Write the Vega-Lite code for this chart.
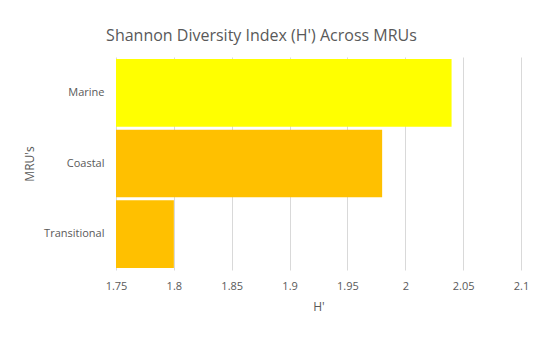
{
  "$schema": "https://vega.github.io/schema/vega-lite/v6.json",
  "width": 405,
  "height": 213,
  "autosize": {"type": "none"},
  "padding": {"left": 116, "top": 57, "right": 29, "bottom": 70},
  "background": "white",
  "title": {
    "text": "Shannon Diversity Index (H') Across MRUs",
    "font": "Open Sans",
    "fontSize": 16,
    "fontWeight": "normal",
    "color": "#595959",
    "anchor": "middle",
    "dx": -57,
    "offset": 13
  },
  "data": {
    "values": [
      {"MRU": "Marine", "H": 2.04},
      {"MRU": "Coastal", "H": 1.98},
      {"MRU": "Transitional", "H": 1.80}
    ]
  },
  "mark": {"type": "bar", "clip": true},
  "encoding": {
    "y": {
      "field": "MRU",
      "type": "nominal",
      "sort": ["Marine", "Coastal", "Transitional"],
      "scale": {"paddingInner": 0.04, "paddingOuter": 0.03},
      "axis": {
        "title": "MRU's",
        "titleFont": "Open Sans",
        "titleFontSize": 12,
        "titleFontWeight": "normal",
        "titleColor": "#595959",
        "titleX": -80,
        "labelFont": "Open Sans",
        "labelFontSize": 11,
        "labelColor": "#595959",
        "labelPadding": 12,
        "ticks": false,
        "domain": false,
        "grid": false
      }
    },
    "x": {
      "field": "H",
      "type": "quantitative",
      "scale": {"domain": [1.75, 2.1], "zero": false, "nice": false},
      "axis": {
        "title": "H'",
        "values": [1.75, 1.8, 1.85, 1.9, 1.95, 2, 2.05, 2.1],
        "format": "~g",
        "titleFont": "Open Sans",
        "titleFontSize": 12,
        "titleFontWeight": "normal",
        "titleColor": "#595959",
        "titlePadding": 10,
        "labelFont": "Open Sans",
        "labelFontSize": 11,
        "labelColor": "#595959",
        "labelPadding": 10,
        "ticks": false,
        "domain": false,
        "grid": true,
        "gridColor": "#d9d9d9",
        "labelFlush": false
      }
    },
    "x2": {"datum": 1.75},
    "color": {
      "field": "MRU",
      "type": "nominal",
      "scale": {"domain": ["Marine", "Coastal", "Transitional"], "range": ["#FFFF00", "#FFC000", "#FFC000"]},
      "legend": null
    }
  },
  "config": {"view": {"stroke": null}}
}
